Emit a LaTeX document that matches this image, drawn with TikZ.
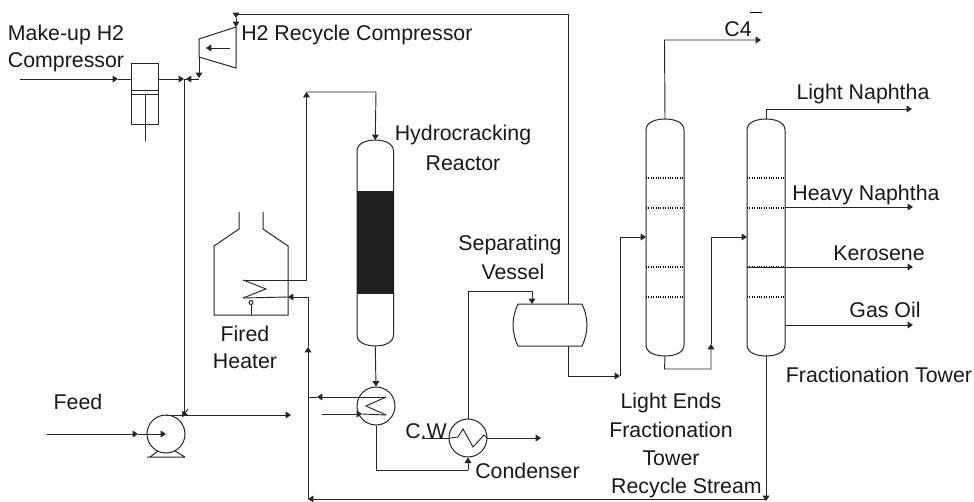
\documentclass[tikz,border=0pt]{standalone}
\usepackage{fontspec}
\setmainfont{Liberation Sans}
\usetikzlibrary{arrows.meta,calc}
\tikzset{
  pipe/.style={draw=black!85,line width=0.7pt},
  flow/.style={pipe,-{Triangle[length=4pt,width=5pt]}},
  equip/.style={draw=black!85,line width=0.75pt},
  tray/.style={draw=black,line width=0.8pt,densely dotted},
  vesselc/.style={circle,draw=black!85,line width=0.75pt,minimum size=28.5pt,inner sep=0pt},
  lab/.style={font=\fontsize{16}{16}\selectfont,text=black!90,inner sep=0pt,align=center},
}
\newcommand{\towerbody}[5]{% left right top-apex bottom-apex name
  \draw[equip] (#1,#3+11) .. controls (#1,#3+3) and (#1+10,#3) .. ({(#1+#2)/2},#3)
     .. controls (#2-10,#3) and (#2,#3+3) .. (#2,#3+11) -- (#2,#4-11)
     .. controls (#2,#4-3) and (#2-10,#4) .. ({(#1+#2)/2},#4)
     .. controls (#1+10,#4) and (#1,#4-3) .. (#1,#4-11) -- cycle;
  \coordinate (#5top) at ({(#1+#2)/2},#3);
  \coordinate (#5bot) at ({(#1+#2)/2},#4);
}
\begin{document}
\begin{tikzpicture}[x=0.75pt,y=-0.75pt]
\useasboundingbox (0,0) rectangle (974,502);

% ---------- junction coordinates
\coordinate (mkin) at (20,79);
\coordinate (mkina) at (118,79);
\coordinate (cmpL) at (131,79);
\coordinate (cmpR) at (158,79);
\coordinate (jA) at (184,79);
\coordinate (jB) at (186,79);
\coordinate (jC) at (199,79);
\coordinate (jCa) at (199,79);
\coordinate (rcDown) at (199,57);
\coordinate (rcIn) at (236,27);
\coordinate (rcTop) at (236,14);
\coordinate (rcTopA) at (236,18);
\coordinate (rcCor) at (568,14);
\coordinate (pumpTee) at (184,415);
\coordinate (teeA) at (188,409);
\coordinate (teeB) at (182,417);
\coordinate (feedS) at (47,434);
\coordinate (feedA) at (138,434);
\coordinate (feedB) at (166,434);
\coordinate (pumpTop) at (166,415);
\coordinate (pumpEnd) at (291,415);

% ---------- make-up compressor
\draw[equip] (131,64) rectangle (158,125);
\draw[equip] (131,91) -- (158,91) (131,95) -- (158,95);
\draw[equip] (145,95) -- (145,141);

% ---------- recycle compressor
\draw[equip] (199,39) -- (236,27) -- (236,68) -- (199,57) -- cycle;
\coordinate (rcarrS) at (230,48);
\coordinate (rcarrE) at (206,48);
\draw[flow] (rcarrS) -- (rcarrE);

% ---------- reactor
\towerbody{357}{393.5}{140}{346}{rx}
\fill[black!88] (357,191) rectangle (393.5,294);

% ---------- heater
\draw[equip] (239,212) -- (239,229) -- (214,246) -- (214,315) -- (288,315) -- (288,246) -- (263,229) -- (263,212);
\coordinate (coilA) at (243,280);
\coordinate (coilB) at (266,289);
\coordinate (coilC) at (243,298);
\draw[pipe] (coilA) -- (coilB) -- (coilC);
\draw[equip] (251,315) -- (251,304);
\node[circle,draw=black,line width=0.6pt,minimum size=3pt,inner sep=0pt] (burner) at (251,302.5) {};

% ---------- pump
\node[vesselc] (pump) at (166,434) {};
\draw[equip] (147,457) -- (185,457) (150,457) -- (158,451) (185,457) -- (175,451);

% ---------- exchanger and condenser
\node[vesselc] (hx) at (376,406) {};
\node[vesselc] (cond) at (468,438) {};
\coordinate (hxA) at (386,397);
\coordinate (hxB) at (366,406);
\coordinate (hxC) at (386,415);
\draw[pipe] (hxA) -- (hxB) -- (hxC);
\coordinate (cz0) at (450,438);
\coordinate (cz1) at (458,437);
\coordinate (cz2) at (463,429);
\coordinate (cz3) at (473,447);
\coordinate (cz4) at (484,435);
\coordinate (cz5) at (487,438);
\draw[pipe] (cz0) -- (cz1) -- (cz2) -- (cz3) -- (cz4) -- (cz5);

% ---------- separating vessel
\draw[equip] (518,304) -- (582,304) .. controls (585,310) and (587,318) .. (587,325)
   .. controls (587,332) and (585,340) .. (582,346) -- (518,346)
   .. controls (515,340) and (513,332) .. (513,325) .. controls (513,318) and (515,310) .. (518,304) -- cycle;
\coordinate (vIn) at (532,304);
\coordinate (vTop) at (568,304);
\coordinate (vBot) at (568,346);

% ---------- towers
\towerbody{646}{684}{119}{356}{le}
\towerbody{747}{785}{119}{356}{fr}
\foreach \yy in {178,208,267,297}{
  \draw[tray] (646,\yy) -- (684,\yy);
  \draw[tray] (747,\yy) -- (785,\yy);
}

% ---------- make-up line
\draw[flow] (mkin) -- (mkina);
\draw[pipe] (mkina) -- (cmpL);
\draw[flow] (cmpR) -- (jA);
\draw[pipe] (jA) -- (jC);
\draw[flow] (jC) -- (jB);
\draw[flow] (rcDown) -- ($(jC)+(0,-1)$);
% recycle gas
\draw[pipe] (vTop) -- (rcCor) -- (rcTop);
\draw[flow] (rcTop) -- (rcTopA);
\draw[flow] (rcTopA) -- (rcIn);
\draw[pipe] (jA) -- (pumpTee);
\draw[flow] (teeA) -- (teeB);

% ---------- feed
\draw[flow] (feedS) -- (feedA);
\draw[flow] (feedA) -- (feedB);
\draw[flow] (pumpTop) -- (pumpEnd);

% ---------- reactor feed
\coordinate (hotA) at (306.5,280);
\coordinate (hotB) at (306.5,92);
\coordinate (hotC) at (376,92);
\draw[flow] (coilA) -- (hotA) -- (hotB);
\draw[flow] (hotB) -- (hotC) -- (rxtop);

% ---------- reactor effluent through exchanger
\draw[flow] (rxbot) -- (hx.north);
\coordinate (hxOutL) at (308,397);
\coordinate (hxOutA) at (317,397);
\draw[flow] (hxA) -- (hxOutA);
\draw[pipe] (hxOutA) -- (hxOutL);
\coordinate (hxInS) at (322,414);
\coordinate (hxInA) at (362,414);
\draw[flow] (hxInS) -- (hxInA);
\draw[pipe] (hxInA) -- (hxC);
\coordinate (hxDown) at (376,470);
\coordinate (condIn) at (468,470);
\draw[pipe] (hx.south) -- (hxDown) -- (condIn);
\draw[flow] (condIn) -- (cond.south);

% ---------- condenser
\coordinate (cwS) at (422,438);
\draw[pipe] (cwS) -- (cz0);
\coordinate (condOut) at (541,438);
\draw[flow] (cz5) -- (condOut);
\coordinate (condUp) at (468,291);
\coordinate (sepOver) at (532,291);
\draw[flow] (cond.north) -- (condUp) -- (sepOver) -- (vIn);

% ---------- separator bottoms to light ends tower
\coordinate (s1) at (568,376);
\coordinate (s2) at (620,376);
\coordinate (s3) at (620,237);
\coordinate (s4) at (646,237);
\draw[flow] (vBot) -- (s1) -- (s2);
\draw[flow] (s2) -- (s3) -- (s4);

% ---------- light ends bottoms to fractionator
\coordinate (b1) at (664.5,369);
\coordinate (b2) at (711,369);
\coordinate (b2a) at (711,344);
\coordinate (b3) at (711,237);
\coordinate (b4) at (747,237);
\draw[flow] (lebot) -- (b1) -- (b2) -- (b2a);
\draw[flow] (b2a) -- (b3) -- (b4);

% ---------- overhead and side products
\coordinate (c4a) at (664.5,40);
\coordinate (c4b) at (761,40);
\draw[flow] (letop) -- (c4a) -- (c4b);
\coordinate (ln1) at (766,109);
\coordinate (ln2) at (912,109);
\draw[flow] (frtop) -- (ln1) -- (ln2);
\coordinate (hnS) at (785,207);
\coordinate (hnE) at (913,207);
\draw[flow] (hnS) -- (hnE);
\coordinate (keS) at (747,267);
\coordinate (keE) at (913,267);
\draw[flow] (keS) -- (keE);
\coordinate (goS) at (785,325);
\coordinate (goE) at (913,325);
\draw[flow] (goS) -- (goE);

% ---------- recycle stream
\coordinate (rr1) at (766,499);
\coordinate (rr1a) at (766,501);
\coordinate (rr2) at (308,499);
\coordinate (rr2a) at (308,347);
\coordinate (rr3) at (308,297);
\coordinate (rr4) at (288,297);
\draw[flow] (frbot) -- (rr1a);
\draw[flow] (rr1) -- (rr2);
\draw[flow] (rr2) -- (rr2a);
\draw[flow] (rr2a) -- (rr3) -- (rr4);
\draw[pipe] (rr4) -- (coilC);

% ---------- labels
\node[lab] (tMake) at (66,34.5) {Make-up H2};
\node[lab] (tComp) at (66,62) {Compressor};
\node[lab,anchor=west] (tRec) at (241,35) {H2 Recycle Compressor};
\node[lab] (tHyd) at (463,135) {Hydrocracking};
\node[lab] (tRea) at (463,163) {Reactor};
\node[lab] (tFir) at (245,334) {Fired};
\node[lab] (tHea) at (245,361) {Heater};
\node[lab] (tFeed) at (78,402) {Feed};
\node[lab] (tSep) at (510,245) {Separating};
\node[lab] (tVes) at (513,272) {Vessel};
\node[lab] (tC4) at (738,29) {C4};
\coordinate (barL) at (750,12);
\coordinate (barR) at (762,12);
\draw[line width=0.6pt] (barL) -- (barR);
\node[lab] (tLN) at (863,94) {Light Naphtha};
\node[lab] (tHN) at (866,195) {Heavy Naphtha};
\node[lab] (tKe) at (879,253) {Kerosene};
\node[lab] (tGO) at (885,310) {Gas Oil};
\node[lab] (tFT) at (879,375) {Fractionation Tower};
\node[lab] (tLE) at (671,403) {Light Ends};
\node[lab] (tFr) at (671,430) {Fractionation};
\node[lab] (tTo) at (671,458) {Tower};
\node[lab,anchor=east] (tRS) at (762,488) {Recycle Stream};
\node[lab] (tCW) at (426,431) {C.W};
\node[lab,anchor=west] (tCo) at (475,471) {Condenser};
\end{tikzpicture}
\end{document}
